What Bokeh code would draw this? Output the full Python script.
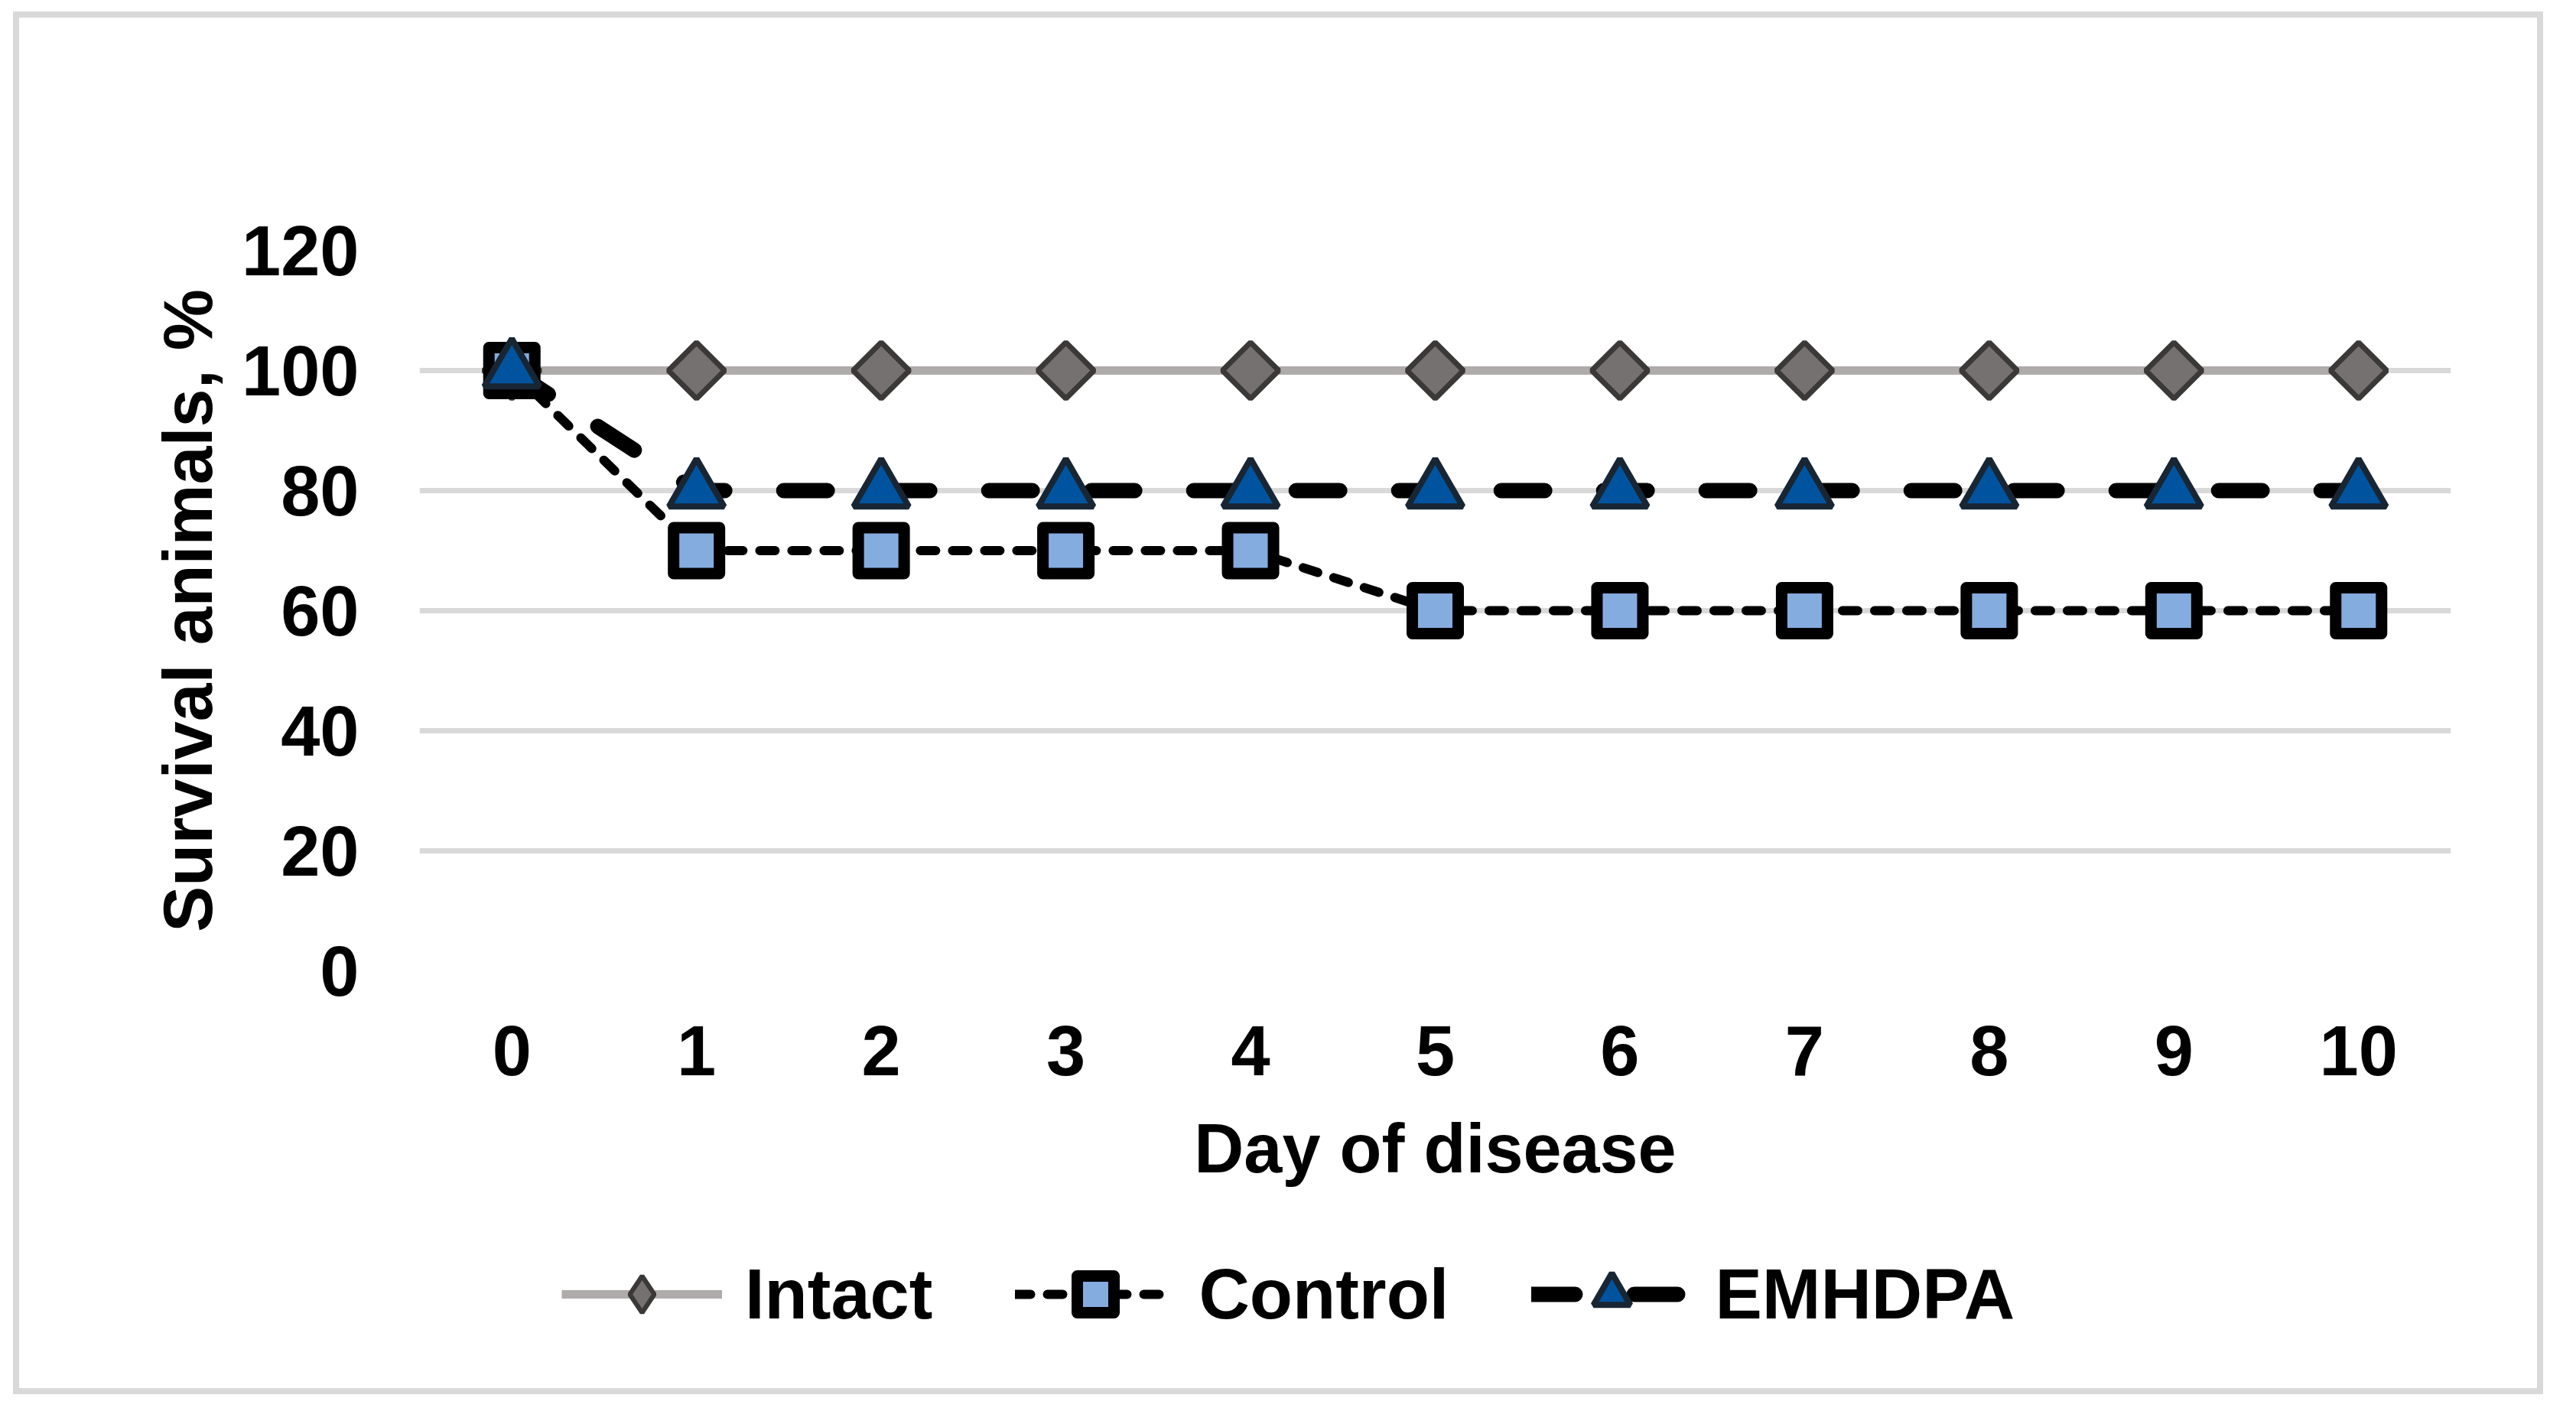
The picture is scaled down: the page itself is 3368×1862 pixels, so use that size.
import math
from bokeh.plotting import figure
from bokeh.layouts import column
from bokeh.models import Range1d, FixedTicker, Legend, LegendItem, ColumnDataSource
from bokeh.embed import file_html
from bokeh.resources import INLINE

# ---- data ----
days = [0, 1, 2, 3, 4, 5, 6, 7, 8, 9, 10]
intact = [100, 100, 100, 100, 100, 100, 100, 100, 100, 100, 100]
control = [100, 70, 70, 70, 70, 60, 60, 60, 60, 60, 60]
emhdpa = [100, 80, 80, 80, 80, 80, 80, 80, 80, 80, 80]
series_names = ["Intact", "Control", "EMHDPA"]
y_ticks = [0, 20, 40, 60, 80, 100, 120]
x_title = "Day of disease"
y_title = "Survival animals, %"

src = ColumnDataSource(dict(day=days, intact=intact, control=control, emhdpa=emhdpa))

W = 3292
H_CHART = 1580
H_LEG = 212
FONT = "Liberation Sans"

LINE = {
    "Intact": dict(line_color="#afabab", line_width=11),
    "Control": dict(line_color="black", line_width=12, line_dash="20 22",
                    line_cap="round"),
    "EMHDPA": dict(line_color="black", line_width=20, line_dash="57 77",
                   line_cap="round"),
}
MARK = {
    "Intact": dict(marker="square", angle=math.pi / 4, size=52,
                   fill_color="#767171", line_color="#3b3838", line_width=7),
    "Control": dict(marker="square", size=60, fill_color="#84acdf",
                    line_color="black", line_width=15, line_join="round"),
    "EMHDPA": dict(marker="triangle", size=72, fill_color="#00549f",
                   line_color="#182634", line_width=8),
}
# the legend ignores marker angles, so its Intact key uses the diamond marker
LEG_MARK = dict(MARK)
LEG_MARK["Intact"] = dict(marker="diamond", size=52, fill_color="#767171",
                          line_color="#3b3838", line_width=6)
cols = {"Intact": "intact", "Control": "control", "EMHDPA": "emhdpa"}

# ---------------- chart ----------------
p = figure(width=W, height=H_CHART, output_backend="svg", toolbar_location=None,
           x_range=Range1d(-0.5, 10.5), y_range=Range1d(0, 120),
           min_border_left=523, min_border_right=113,
           min_border_top=304, min_border_bottom=334)
p.outline_line_color = None
p.background_fill_color = "white"
p.border_fill_color = "white"

p.xgrid.visible = False
p.ygrid.ticker = FixedTicker(ticks=y_ticks)
p.ygrid.grid_line_color = "#d9d9d9"
p.ygrid.grid_line_width = 7

p.xaxis.ticker = FixedTicker(ticks=days)
p.yaxis.ticker = FixedTicker(ticks=y_ticks)
for ax in (p.xaxis[0], p.yaxis[0]):
    ax.axis_line_color = None
    ax.major_tick_line_color = None
    ax.minor_tick_line_color = None
    ax.major_tick_out = 0
    ax.major_tick_in = 0
    ax.major_label_text_font = FONT
    ax.major_label_text_font_style = "bold"
    ax.major_label_text_font_size = "92px"
    ax.major_label_text_color = "black"
    ax.axis_label_text_font = FONT
    ax.axis_label_text_font_style = "bold"
    ax.axis_label_text_font_size = "90px"
    ax.axis_label_text_color = "black"
p.xaxis.axis_label = x_title
p.yaxis.axis_label = y_title
p.xaxis.major_label_standoff = 72
p.xaxis.axis_label_standoff = 43
p.yaxis.major_label_standoff = 79
p.yaxis.axis_label_standoff = 17

for name in series_names:
    p.line("day", cols[name], source=src, **LINE[name])
    p.scatter("day", cols[name], source=src, **MARK[name])

# ---------------- legend strip ----------------
# same series, drawn outside this strip's visible ranges; only the legend shows
q = figure(width=W, height=H_LEG, output_backend="svg", toolbar_location=None,
           x_range=Range1d(1000, 1001), y_range=Range1d(1000, 1001),
           x_axis_type=None, y_axis_type=None,
           min_border_left=0, min_border_right=0,
           min_border_top=0, min_border_bottom=0)
q.outline_line_color = None
q.grid.visible = False
q.background_fill_color = "white"
q.border_fill_color = "white"

items = []
for name in series_names:
    rl = q.line("day", cols[name], source=src, **LINE[name])
    rm = q.scatter("day", cols[name], source=src, **LEG_MARK[name])
    items.append(LegendItem(label=name, renderers=[rl, rm]))

legend = Legend(items=items, location=(186, 63), orientation="horizontal",
                glyph_width=210, glyph_height=120, label_standoff=30, spacing=108,
                padding=0, margin=0, border_line_color=None,
                background_fill_alpha=0,
                label_text_font=FONT, label_text_font_style="bold",
                label_text_font_size="92px", label_text_color="black")
q.add_layout(legend)

root = column(p, q, spacing=0,
              styles={"border": "8px solid #d9d9d9",
                      "margin": "15px 0px 0px 17px"})

open("out.html", "w").write(file_html(root, INLINE))
